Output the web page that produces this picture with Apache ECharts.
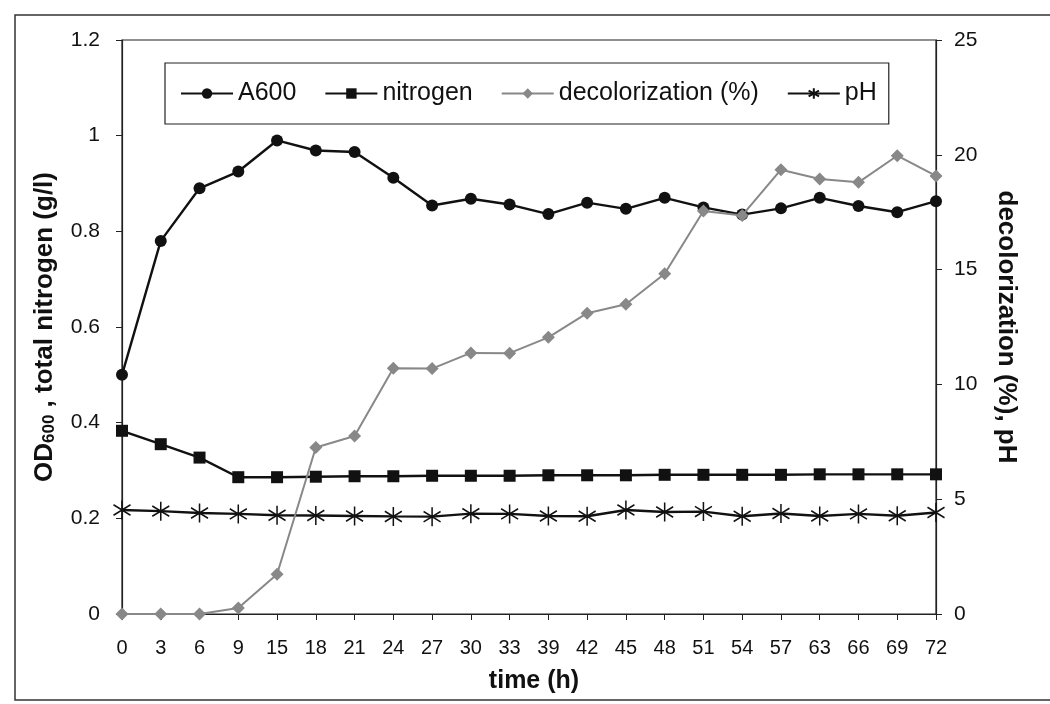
<!DOCTYPE html>
<html><head><meta charset="utf-8">
<script src="https://cdn.jsdelivr.net/npm/echarts@6/dist/echarts.min.js"></script>
<style>html,body{margin:0;padding:0;background:#fff}#c{width:1050px;height:704px}</style>
</head><body><div id="c"></div>
<script>
const timeLabels = ['0','3','6','9','15','18','21','24','27','30','33','39','42','45','48','51','54','57','63','66','69','72'];
const a600 = [0.50,0.78,0.89,0.925,0.99,0.969,0.966,0.912,0.854,0.868,0.856,0.836,0.86,0.847,0.87,0.85,0.835,0.848,0.87,0.853,0.84,0.863];
const nitrogen = [0.383,0.355,0.327,0.286,0.286,0.287,0.288,0.288,0.289,0.289,0.289,0.29,0.29,0.29,0.291,0.291,0.291,0.291,0.292,0.292,0.292,0.292];
const decolorization = [0,0,0,0.26,1.73,7.25,7.75,10.7,10.69,11.37,11.36,12.05,13.1,13.49,14.82,17.55,17.36,19.35,18.95,18.8,19.96,19.08];
const pH = [4.53,4.48,4.4,4.36,4.3,4.29,4.27,4.25,4.24,4.37,4.36,4.27,4.26,4.53,4.44,4.46,4.26,4.38,4.27,4.36,4.28,4.42];
const leftTicks = [0,0.2,0.4,0.6,0.8,1,1.2];
const rightTicks = [0,5,10,15,20,25];

const FONT = 'Liberation Sans, Arial, sans-serif';
const chart = echarts.init(document.getElementById('c'), null, {renderer:'canvas'});
const star = 'path://M0,-10L0,10M-9,-5.5L9,5.5M-9,5.5L9,-5.5';
chart.setOption({
  animation:false,
  backgroundColor:'#fff',
  textStyle:{fontFamily:FONT},
  graphic:[{type:'rect', shape:{x:15,y:15,width:1060,height:685}, style:{fill:'none', stroke:'#333', lineWidth:1.5}, silent:true, z:-1}],
  grid:{left:122, right:114, top:40, bottom:90, show:true, borderColor:'#222', borderWidth:1.2, backgroundColor:'transparent'},
  legend:{
    left:165, top:63, width:718,
    padding:[18,12,18,15], itemGap:28, itemWidth:52, itemHeight:13,
    borderColor:'#222', borderWidth:1.2,
    textStyle:{fontFamily:FONT, fontSize:25, color:'#111'},
    data:['A600','nitrogen','decolorization (%)','pH']
  },
  xAxis:{
    type:'category', data:timeLabels, boundaryGap:false,
    axisLine:{lineStyle:{color:'#222', width:1.2}},
    axisTick:{alignWithLabel:true, length:6, lineStyle:{color:'#222'}},
    axisLabel:{fontFamily:FONT, fontSize:20, color:'#111', margin:24, interval:0},
    name:'time (h)', nameLocation:'middle', nameGap:55,
    nameTextStyle:{fontFamily:FONT, fontSize:25, fontWeight:'bold', color:'#111', padding:[0,0,0,10]}
  },
  yAxis:[{
    type:'value', min:0, max:1.2, interval:0.2, position:'left',
    splitLine:{show:false},
    axisLine:{show:true, lineStyle:{color:'#222', width:1.2}},
    axisTick:{show:true, length:6, lineStyle:{color:'#222'}},
    axisLabel:{fontFamily:FONT, fontSize:21, color:'#111', margin:22},
    name:'{b|OD}{s|600}{b| , total nitrogen (g/l)}', nameLocation:'middle', nameGap:64, nameRotate:90,
    nameTextStyle:{rich:{
      b:{fontFamily:FONT, fontSize:26, fontWeight:'bold', color:'#111'},
      s:{fontFamily:FONT, fontSize:17, fontWeight:'bold', color:'#111', padding:[8,0,0,0]}
    }}
  },{
    type:'value', min:0, max:25, interval:5, position:'right',
    splitLine:{show:false},
    axisLine:{show:true, lineStyle:{color:'#222', width:1.2}},
    axisTick:{show:true, inside:false, length:6, lineStyle:{color:'#222'}},
    axisLabel:{fontFamily:FONT, fontSize:21, color:'#111', margin:18},
    name:'decolorization (%), pH', nameLocation:'middle', nameGap:57, nameRotate:-90,
    nameTextStyle:{fontFamily:FONT, fontSize:26, fontWeight:'bold', color:'#111'}
  }],
  series:[
    {name:'A600', type:'line', yAxisIndex:0, data:a600, symbol:'circle', symbolSize:12,
      lineStyle:{color:'#111', width:2.4}, itemStyle:{color:'#111'}, z:4},
    {name:'nitrogen', type:'line', yAxisIndex:0, data:nitrogen, symbol:'rect', symbolSize:12,
      lineStyle:{color:'#111', width:2.4}, itemStyle:{color:'#111'}, z:3},
    {name:'decolorization (%)', type:'line', yAxisIndex:1, data:decolorization, symbol:'diamond', symbolSize:13,
      lineStyle:{color:'#888', width:2}, itemStyle:{color:'#888'}, z:5},
    {name:'pH', type:'line', yAxisIndex:1, data:pH, symbol:star, symbolSize:[17,19],
      lineStyle:{color:'#111', width:2.4}, itemStyle:{color:'#111', borderColor:'#111', borderWidth:1.6}, z:3}
  ]
});
</script></body></html>
